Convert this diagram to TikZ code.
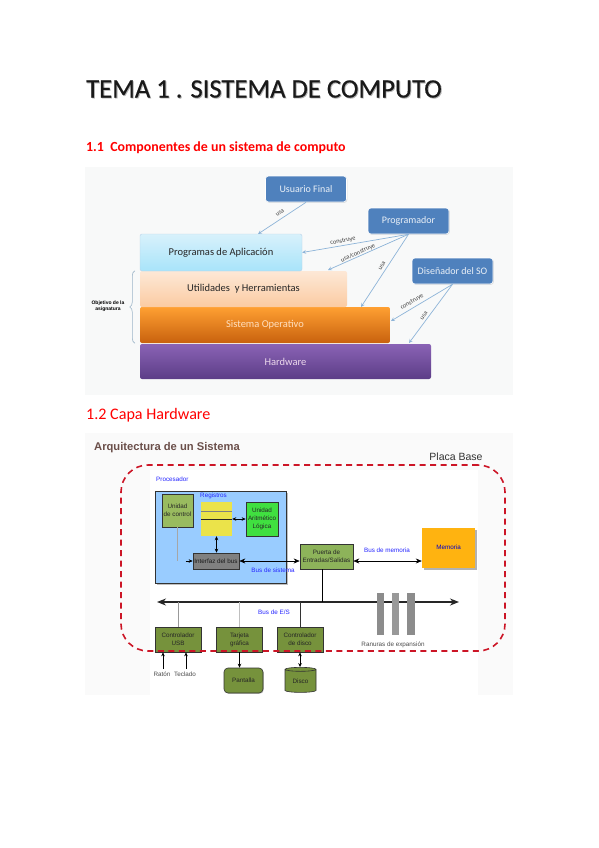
\documentclass[tikz,border=0pt]{standalone}
\usepackage{fontspec}
\setmainfont{Carlito}
\newfontfamily\archfont{Liberation Sans}
\newfontfamily\temafont[FakeBold=0.4]{Carlito}
\usetikzlibrary{arrows.meta, shapes.geometric, shadows, decorations.pathreplacing}
\definecolor{panelgray}{HTML}{F8F9F9}
\definecolor{dotgray}{HTML}{FAFAFA}
\definecolor{rolblue}{HTML}{4F81BD}
\definecolor{uselink}{HTML}{8DB4D8}
\definecolor{bracegray}{HTML}{9DB5C8}
\definecolor{procblue}{HTML}{99CCFF}
\definecolor{ctrlgreen}{HTML}{76923C}
\definecolor{unitgreen}{HTML}{99BB5F}
\definecolor{gategreen}{HTML}{8DB35A}
\definecolor{alugreen}{HTML}{40E040}
\definecolor{regyellow}{HTML}{EBE34A}
\definecolor{memorange}{HTML}{FFB310}
\definecolor{titlebrown}{HTML}{6B4F4A}
\definecolor{dashred}{HTML}{CC1526}
\begin{document}
\begin{tikzpicture}[x=1pt, y=-1pt, >=stealth,
		section/.style={anchor=west, text=red, inner sep=0pt},
		rolebox/.style={draw=white, line width=0.6pt, rounded corners=3pt, fill=rolblue, text=white!88!rolblue, drop shadow={opacity=0.25, shadow xshift=0.8pt, shadow yshift=-0.8pt}, minimum width=81pt, minimum height=26pt, inner sep=0pt, font=\fontsize{10}{10}\selectfont},
		layerbox/.style={rounded corners=2pt, minimum height=36pt, inner sep=0pt, font=\fontsize{10.5}{11}\selectfont},
		uselabel/.style={font=\fontsize{6.4}{6.4}\selectfont, text=black!75, inner sep=0pt},
		uselink/.style={draw=uselink, line width=0.7pt, ->},
		archbox/.style={draw=black!80, line width=0.6pt, inner sep=0pt, align=center, text=black!85, font=\archfont\fontsize{6.3}{8.2}\selectfont},
		ctrlbox/.style={archbox, fill=ctrlgreen, minimum width=46pt, minimum height=25pt},
		archlabel/.style={inner sep=0pt, text=black!70, font=\archfont\fontsize{6.3}{6.5}\selectfont},
		buslabel/.style={inner sep=0pt, text=blue!85, font=\archfont\fontsize{6.3}{6.5}\selectfont},
		slotbar/.style={fill=black!45, minimum width=7.5pt, minimum height=42pt, inner sep=0pt},
		tiplink/.style={->, >={Stealth[length=4pt,width=3.5pt]}, black, line width=0.6pt},
		biglink/.style={{Stealth[length=6pt,width=5pt]}-{Stealth[length=6pt,width=5pt]}, black, line width=0.6pt},
		smalllink/.style={{Stealth[length=4pt,width=3.5pt]}-{Stealth[length=4pt,width=3.5pt]}, black, line width=0.6pt}]
	\useasboundingbox (0,0) rectangle (599,848);
	\fill[white] (0,0) rectangle (599,848);

	\node[anchor=west, inner sep=0pt, text=black!30, font=\temafont\fontsize{26.6}{28}\selectfont] at (86.9,89.9) {TEMA 1 . SISTEMA DE COMPUTO};
	\node (tema) [anchor=west, inner sep=0pt, text=black!90, font=\temafont\fontsize{26.6}{28}\selectfont] at (86,89) {TEMA 1 . SISTEMA DE COMPUTO};
	\node (sec1) [section, font=\bfseries\fontsize{13.9}{14}\selectfont] at (86,147.5) {1.1\ \ Componentes de un sistema de computo};
	\node (sec2) [section, font=\fontsize{16.1}{17}\selectfont] at (86,415) {1.2 Capa Hardware};

	\fill[panelgray] (85,167) rectangle (513,395);
	\node (hardware) [layerbox, minimum width=291pt, minimum height=35pt, top color={rgb,255:red,138;green,99;blue,181}, bottom color={rgb,255:red,92;green,61;blue,135}, text=white!85!violet] at (285.5,361.5) {Hardware};
	\node (sistema) [layerbox, minimum width=250pt, top color={rgb,255:red,255;green,160;blue,50}, bottom color={rgb,255:red,200;green,97;blue,14}, text=white!75!orange] at (265,325) {Sistema Operativo};
	\node (utilidades) [layerbox, minimum width=207pt, top color={rgb,255:red,253;green,232;blue,214}, bottom color={rgb,255:red,251;green,203;blue,162}, text=black!85] at (243.5,289) {Utilidades\ \ y Herramientas};
	\node (programas) [layerbox, minimum width=162pt, minimum height=37pt, top color={rgb,255:red,216;green,241;blue,251}, bottom color={rgb,255:red,168;green,228;blue,250}, draw=uselink!60, text=black!85] at (221,252.5) {Programas de Aplicación};

	\node (usuario) [rolebox] at (306,189) {Usuario Final};
	\node (programador) [rolebox] at (408.5,221) {Programador};
	\node (disenador) [rolebox] at (452.5,271) {Diseñador del SO};

	\coordinate (progend) at (258,234);
	\coordinate (utilend) at (328,270);
	\coordinate (sistend) at (361,307);
	\coordinate (hardend) at (409,343);
	\coordinate (sisside) at (391,321);
	\draw[uselink] (usuario.south) -- (progend);
	\draw[uselink] (programador.south) -- (programas.east);
	\draw[uselink] (programador.south) -- (utilend);
	\draw[uselink] (programador.south) -- (sistend);
	\draw[uselink] (disenador.south) -- (sisside);
	\draw[uselink] (disenador.south) -- (hardend);
	\node (usaone) [uselabel, rotate=38] at (280,213) {usa};
	\node (consone) [uselabel, rotate=10] at (343,241) {construye};
	\node (usacons) [uselabel, rotate=24] at (358,253) {usa/construye};
	\node (usatwo) [uselabel, rotate=60] at (382,266) {usa};
	\node (constwo) [uselabel, rotate=31] at (412,302) {construye};
	\node (usathree) [uselabel, rotate=55] at (424,316) {usa};

	\draw[draw=bracegray, line width=0.6pt, decorate, decoration={brace, amplitude=5pt}] ([xshift=-5pt]sistema.south west) -- ([xshift=-5pt]utilidades.north west);
	\node (objetivo) [align=center, inner sep=0pt, font=\archfont\bfseries\fontsize{5}{6}\selectfont] at (108,306) {Objetivo de la\\asignatura};

	\fill[dotgray] (85,433) rectangle (513,695);
	\fill[white] (150,470) rectangle (478,695);
	\node (arqtitle) [anchor=west, inner sep=0pt, text=titlebrown, font=\archfont\bfseries\fontsize{11.2}{12}\selectfont] at (94,448) {Arquitectura de un Sistema};
	\node (placatext) [inner sep=0pt, text=black!80, font=\archfont\fontsize{10.5}{11}\selectfont] at (456,457) {Placa Base};

	\node (procesador) [draw=black!80, line width=0.6pt, fill=procblue, drop shadow={opacity=0.5, shadow xshift=1.5pt, shadow yshift=-1.5pt}, minimum width=131pt, minimum height=92pt, inner sep=0pt] at (220.5,537) {};
	\node (proctext) [buslabel, anchor=west] at (156,479) {Procesador};
	\node (regtext) [buslabel, anchor=west] at (200,496) {Registros};
	\node (control) [archbox, fill=unitgreen, minimum width=31pt, minimum height=33pt] at (177.5,510.5) {Unidad\\de control};
	\node (registros) [fill=regyellow, minimum width=31pt, minimum height=34pt, inner sep=0pt] at (216.5,519) {};
	\coordinate (regrow) at (201,519);
	\draw[black!50, line width=0.6pt] (201,511) -- (232,511);
	\draw[black!85, line width=0.6pt] (regrow) -- (232,519);
	\node (alu) [archbox, fill=alugreen, minimum width=32pt, minimum height=34pt] at (262,519) {Unidad\\Aritmético\\Lógica};
	\node (interfaz) [archbox, fill=black!50, text=black!90, minimum width=46pt, minimum height=16pt] at (216,561) {Interfaz del bus};
	\node (puerta) [archbox, fill=gategreen, minimum width=53pt, minimum height=25pt] at (326.5,556.5) {Puerta de\\Entradas/Salidas};
	\node (memoria) [fill=memorange, text=blue!80!black, drop shadow={opacity=0.6, shadow xshift=2pt, shadow yshift=-2pt}, minimum width=53pt, minimum height=40pt, inner sep=0pt, font=\archfont\fontsize{6.3}{6.5}\selectfont] at (448.5,547.5) {Memoria};

	\draw[smalllink] (regrow -| registros.east) -- (regrow -| alu.west);
	\draw[smalllink] (registros.south) -- (registros.south |- interfaz.north);
	\coordinate (ctrlturn) at (control.south |- interfaz.west);
	\draw[black!35, line width=0.6pt] (control.south) -- (ctrlturn);
	\draw[tiplink] ([xshift=8pt]ctrlturn) -- (interfaz.west);
	\draw[biglink] (interfaz.east) -- (interfaz.east -| puerta.west);
	\draw[biglink] (interfaz.east -| puerta.east) -- (interfaz.east -| memoria.west);
	\node (busmem) [buslabel] at (387,550) {Bus de memoria};
	\node (bussis) [buslabel] at (273,570.5) {Bus de sistema};

	\node (usb) [ctrlbox] at (178,639.5) {Controlador\\USB};
	\node (tarjeta) [ctrlbox] at (239.5,639.5) {Tarjeta\\gráfica};
	\node (ctrldisco) [ctrlbox] at (300,639.5) {Controlador\\de disco};

	\coordinate (busleft) at (157,602);
	\coordinate (busright) at (459,602);
	\coordinate (puertadrop) at (322,569);
	\draw[black!85, line width=1.4pt, {Stealth[length=9pt,width=7pt]}-{Stealth[length=9pt,width=7pt]}] (busleft) -- (busright);
	\node (slotone) [slotbar] at (380.5,614) {};
	\node (slottwo) [slotbar, fill=black!40] at (395.5,614) {};
	\node (slotthree) [slotbar] at (411,614) {};
	\draw[black, line width=0.6pt] (puertadrop) -- (puertadrop |- busleft);
	\draw[black!40, line width=0.7pt] (usb.north) -- (usb.north |- busleft);
	\draw[black!25, line width=0.7pt] (tarjeta.north) -- (tarjeta.north |- busleft);
	\draw[black!80, line width=0.6pt] (ctrldisco.north) -- (ctrldisco.north |- busleft);
	\node (busio) [buslabel] at (274,612) {Bus de E/S};
	\node (ranuras) [archlabel] at (393,645) {Ranuras de expansión};

	\node (raton) [archlabel] at (162,674) {Ratón};
	\node (teclado) [archlabel] at (185,674) {Teclado};
	\coordinate (ratonin) at (163,669);
	\coordinate (tecladoin) at (186,669);
	\draw[tiplink] (ratonin) -- (ratonin |- usb.south);
	\draw[tiplink] (tecladoin) -- (tecladoin |- usb.south);

	\node (pantalla) [archbox, fill=ctrlgreen, rounded corners=4pt, drop shadow={opacity=0.4, shadow xshift=0.8pt, shadow yshift=-0.8pt}, minimum width=39pt, minimum height=25pt] at (243.5,680.5) {Pantalla};
	\node (disco) [archbox, fill=ctrlgreen, cylinder, shape border rotate=90, aspect=0.25, shape aspect=0.25, minimum width=31pt, minimum height=25pt] at (300.5,681) {Disco};
	\draw[tiplink] (tarjeta.south) -- (tarjeta.south |- pantalla.north);
	\draw[smalllink] (ctrldisco.south) -- (ctrldisco.south |- disco.north);

	\node (placa) [draw=dashred, line width=1.6pt, dash pattern=on 6pt off 4.5pt, rounded corners=27pt, minimum width=384pt, minimum height=186pt, inner sep=0pt] at (313,558) {};
\end{tikzpicture}
\end{document}
